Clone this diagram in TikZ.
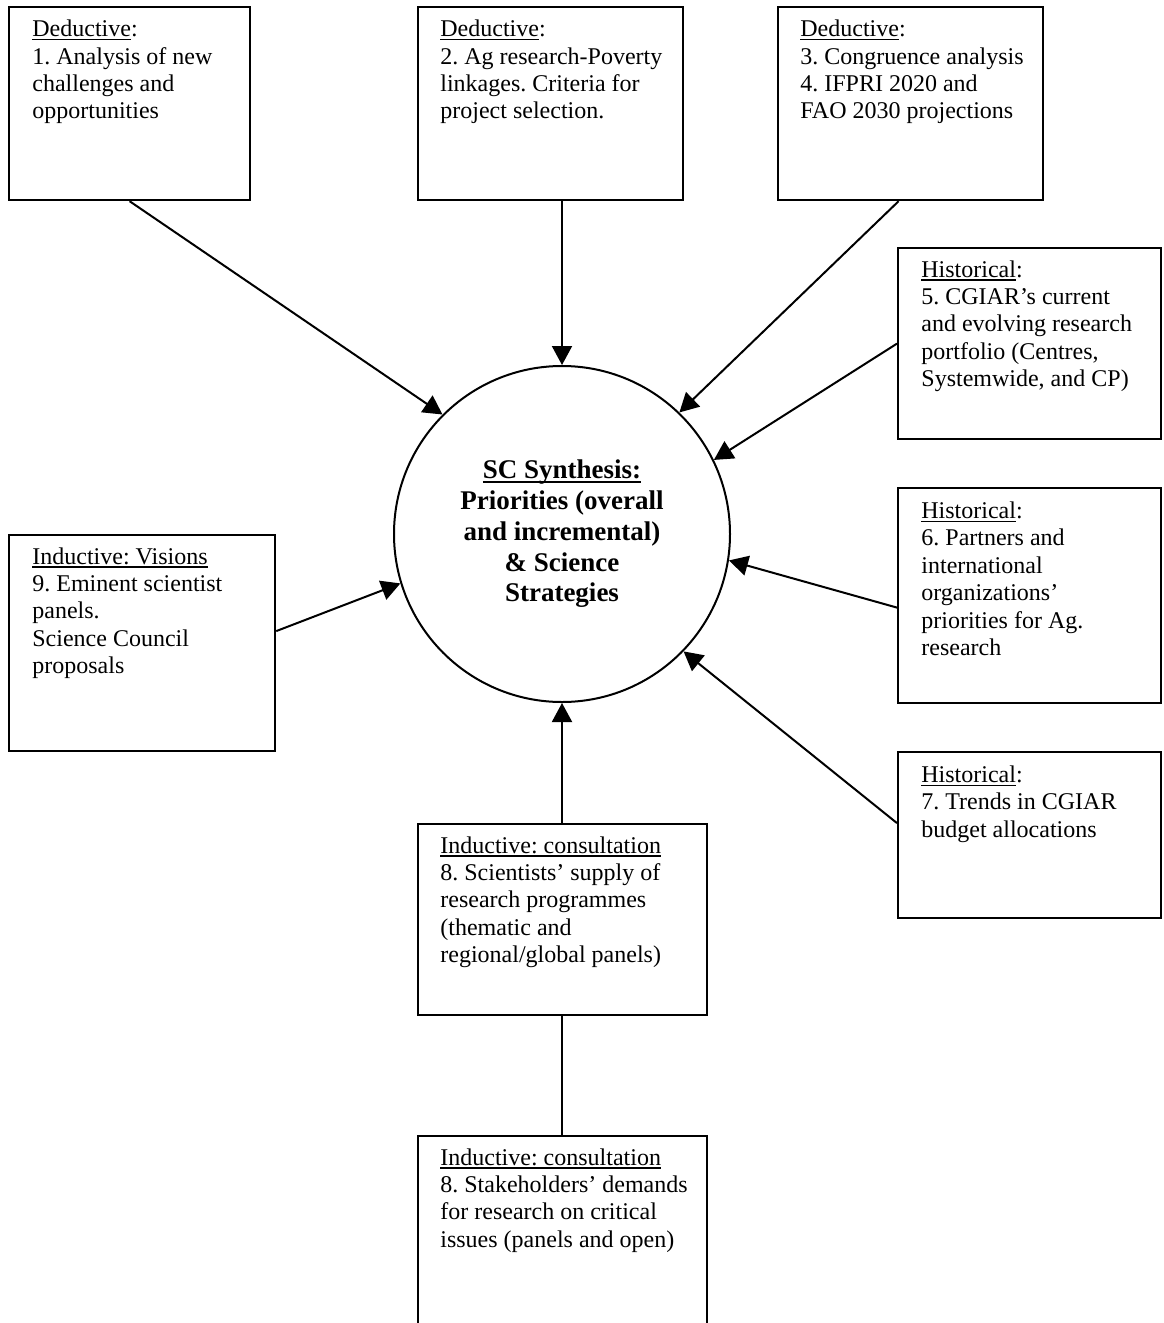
\documentclass[tikz,border=0pt]{standalone}
\usepackage{fontspec}
\setmainfont{Liberation Serif}
\usetikzlibrary{arrows.meta}
\newcommand{\myul}[1]{\setbox0\hbox{#1}\rlap{\rule[-1.9pt]{\wd0}{0.75pt}}\box0}
\frenchspacing
\begin{document}
\begin{tikzpicture}[x=0.5pt,y=-0.5pt,
  box/.style={draw, line width=1.1pt, anchor=north west, inner sep=0pt},
  txt/.style={anchor=north west, inner sep=0pt, align=left, font=\fontsize{12}{13.7}\selectfont},
  hub/.style={draw, circle, line width=1pt, minimum size=168pt, inner sep=0pt, align=center, font=\fontsize{13.5}{15.4}\selectfont\bfseries},
  link/.style={line width=1pt, -{Triangle[length=9.5pt,width=10pt]}},
  plainlink/.style={line width=1pt}]
\useasboundingbox (0,0) rectangle (1163,1323);
\fill[white] (0,0) rectangle (1163,1323);

% central circle
\node[hub] (c) at (562,534) {\myul{SC Synthesis:}\\Priorities (overall\\and incremental)\\\& Science\\Strategies};

% boxes
\node[box, minimum width=120.5pt, minimum height=96.5pt] (b1) at (8,6) {};
\node[box, minimum width=132.5pt, minimum height=96.5pt] (b2) at (417,6) {};
\node[box, minimum width=132.5pt, minimum height=96.5pt] (b3) at (777,6) {};
\node[box, minimum width=131.5pt, minimum height=95.5pt] (b5) at (897,247) {};
\node[box, minimum width=131.5pt, minimum height=107.5pt] (b6) at (897,487) {};
\node[box, minimum width=131.5pt, minimum height=83pt] (b7) at (897,751) {};
\node[box, minimum width=133pt, minimum height=108pt] (b9) at (8,534) {};
\node[box, minimum width=144.5pt, minimum height=95.5pt] (b8a) at (417,823) {};
\begin{scope}
\clip (0,0) rectangle (1163,1323);
\node[box, minimum width=144.5pt, minimum height=100pt] (b8b) at (417,1135) {};
\end{scope}

% texts
\node[txt] (t1) at ([xshift=12pt,yshift=-6.8pt]b1.north west) {\myul{Deductive}:\\1. Analysis of new\\challenges and\\opportunities};
\node[txt] (t2) at ([xshift=11.5pt,yshift=-6.8pt]b2.north west) {\myul{Deductive}:\\2. Ag research-Poverty\\linkages. Criteria for\\project selection.};
\node[txt] (t3) at ([xshift=11.5pt,yshift=-6.8pt]b3.north west) {\myul{Deductive}:\\3. Congruence analysis\\4. IFPRI 2020 and\\FAO 2030 projections};
\node[txt] (t5) at ([xshift=12pt,yshift=-6.5pt]b5.north west) {\myul{Historical}:\\5. CGIAR’s current\\and evolving research\\portfolio (Centres,\\Systemwide, and CP)};
\node[txt] (t6) at ([xshift=12pt,yshift=-7.2pt]b6.north west) {\myul{Historical}:\\6. Partners and\\international\\organizations’\\priorities for Ag.\\research};
\node[txt] (t7) at ([xshift=12pt,yshift=-7.2pt]b7.north west) {\myul{Historical}:\\7. Trends in CGIAR\\budget allocations};
\node[txt] (t9) at ([xshift=12pt,yshift=-6.5pt]b9.north west) {\myul{Inductive: Visions}\\9. Eminent scientist\\panels.\\Science Council\\proposals};
\node[txt] (t8a) at ([xshift=11.5pt,yshift=-6.5pt]b8a.north west) {\myul{Inductive: consultation}\\8. Scientists’ supply of\\research programmes\\(thematic and\\regional/global panels)};
\node[txt] (t8b) at ([xshift=11.5pt,yshift=-6.5pt]b8b.north west) {\myul{Inductive: consultation}\\8. Stakeholders’ demands\\for research on critical\\issues (panels and open)};

% connectors
\draw[link] (b1.south) -- (c.135);
\draw[link] (c.north |- b2.south) -- (c.north);
\draw[link] ([xshift=-6pt]b3.south) -- (c.46);
\draw[link] (b5.west) -- (c.26);
\draw[link] ([yshift=-6pt]b6.west) -- (c.-9);
\draw[link] ([yshift=6pt]b7.west) -- (c.-44);
\draw[link] ([yshift=6pt]b9.east) -- (c.-163);
\draw[link] (c.south |- b8a.north) -- (c.south);
\draw[plainlink] (c.south |- b8b.north) -- (c.south |- b8a.south);
\end{tikzpicture}
\end{document}
